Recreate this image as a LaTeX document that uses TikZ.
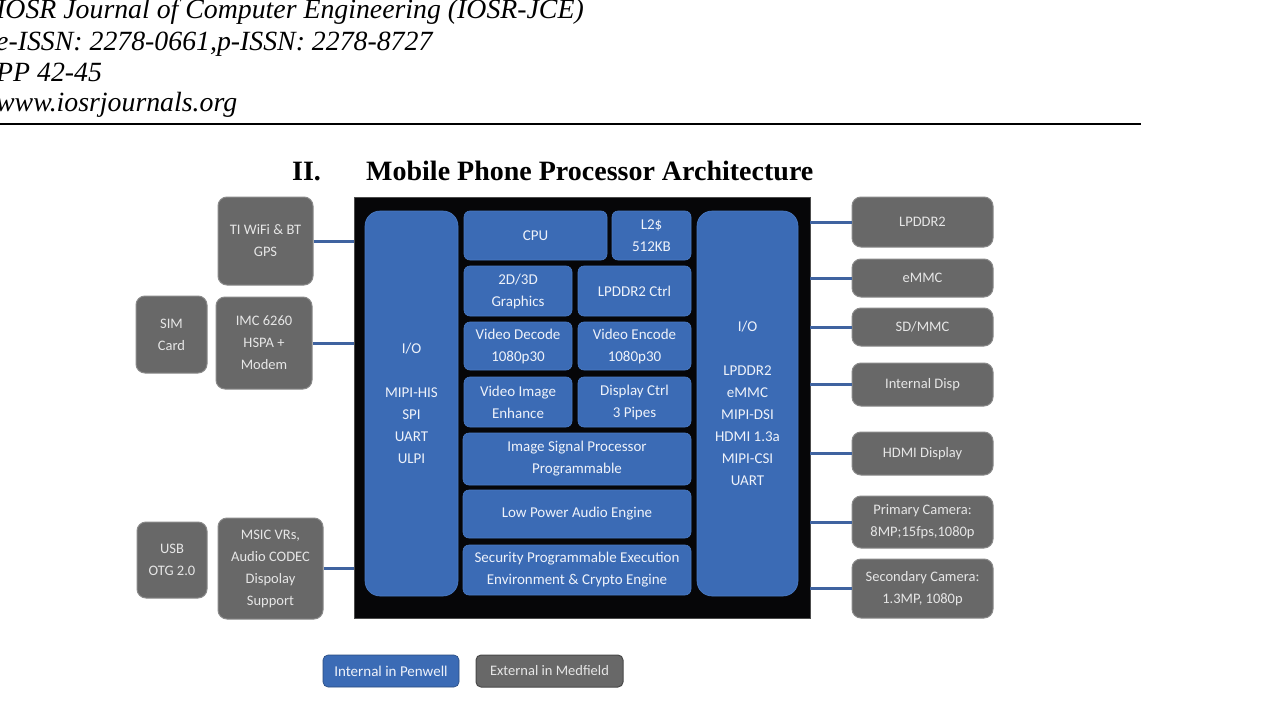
\documentclass[tikz,border=0pt]{standalone}
\usepackage{fontspec}
\setmainfont{Liberation Serif}
\newfontfamily\carl{Carlito}
\definecolor{blueF}{HTML}{3B6BB5}
\definecolor{blueE}{HTML}{4A7BC4}
\definecolor{grayF}{HTML}{686868}
\definecolor{grayE}{HTML}{8A8A8A}
\definecolor{txtB}{HTML}{EEF2FA}
\definecolor{txtG}{HTML}{E6E6E6}
\definecolor{connC}{HTML}{3F63A0}
\definecolor{blackF}{HTML}{060608}
\tikzset{
  blk/.style={rounded corners=6pt, fill=blueF, draw=blueE, line width=0.6pt, text=txtB,
    font=\carl\fontsize{15}{22}\selectfont, align=center, inner sep=0pt},
  iobox/.style={blk, rounded corners=15pt},
  gbox/.style={rounded corners=9pt, fill=grayF, draw=grayE, line width=1pt, text=txtG,
    font=\carl\fontsize{14.5}{22}\selectfont, align=center, inner sep=0pt},
  conn/.style={draw=connC, line width=3pt},
  hdr/.style={anchor=base west, inner sep=0pt, font=\itshape\fontsize{27.8}{30}\selectfont},
  ttl/.style={anchor=base west, inner sep=0pt, font=\bfseries\fontsize{28}{30}\selectfont},
}
\begin{document}
\begin{tikzpicture}[x=1pt,y=-1pt]
\useasboundingbox (0,0) rectangle (1280,720);
\clip (0,0) rectangle (1280,720);
\fill[white] (0,0) rectangle (1280,720);

% header
\node[hdr] (h1) at (-4,19) {IOSR Journal of Computer Engineering (IOSR-JCE)};
\node[hdr] (h2) at (-4,50) {e-ISSN: 2278-0661,p-ISSN: 2278-8727};
\node[hdr] (h3) at (-4,81) {PP 42-45};
\node[hdr] (h4) at (-4,111) {www.iosrjournals.org};
\coordinate (rl) at (0,124);
\coordinate (rr) at (1141,124);
\draw[line width=2pt] (rl) -- (rr);

% title
\node[ttl] (secno) at (292,180) {II.};
\node[ttl] (title) at (366,180) {Mobile Phone Processor Architecture};

% black chip
\node[fill=blackF, draw=gray!60!black, line width=0.8pt, minimum width=456pt, minimum height=421pt, inner sep=0pt] (chip) at (582,407.5) {};

% external boxes (left)
\node[gbox, minimum width=95pt, minimum height=88pt] (wifi) at (265.5,241) {TI WiFi \& BT\\GPS};
\node[gbox, minimum width=71pt, minimum height=77pt] (sim) at (171.5,334.5) {SIM\\Card};
\node[gbox, minimum width=96pt, minimum height=92pt] (imc) at (264,343) {IMC 6260\\HSPA +\\Modem};
\node[gbox, minimum width=70pt, minimum height=76pt] (usb) at (172,560) {USB\\OTG 2.0};
\node[gbox, minimum width=105pt, minimum height=101pt] (msic) at (270.5,568.5) {MSIC VRs,\\Audio CODEC\\Dispolay\\Support};

% external boxes (right)
\node[gbox, minimum width=141pt, minimum height=50pt] (lpddr) at (922.5,222) {LPDDR2};
\node[gbox, minimum width=141pt, minimum height=38pt] (emmc) at (922.5,278) {eMMC};
\node[gbox, minimum width=141pt, minimum height=38pt] (sdmmc) at (922.5,327) {SD/MMC};
\node[gbox, minimum width=141pt, minimum height=43pt] (idisp) at (922.5,384.5) {Internal Disp};
\node[gbox, minimum width=141pt, minimum height=43pt] (hdmi) at (922.5,453.5) {HDMI Display};
\node[gbox, minimum width=141pt, minimum height=52pt] (pcam) at (922.5,522) {Primary Camera:\\8MP;15fps,1080p};
\node[gbox, minimum width=141pt, minimum height=59pt] (scam) at (922.5,588.5) {Secondary Camera:\\1.3MP, 1080p};

% connectors
\draw[conn] (wifi.east) -- (wifi.east -| chip.west);
\draw[conn] (imc.east) -- (imc.east -| chip.west);
\draw[conn] (msic.east) -- (msic.east -| chip.west);
\draw[conn] (lpddr.west) -- (lpddr.west -| chip.east);
\draw[conn] (emmc.west) -- (emmc.west -| chip.east);
\draw[conn] (sdmmc.west) -- (sdmmc.west -| chip.east);
\draw[conn] (idisp.west) -- (idisp.west -| chip.east);
\draw[conn] (hdmi.west) -- (hdmi.west -| chip.east);
\draw[conn] (pcam.west) -- (pcam.west -| chip.east);
\draw[conn] (scam.west) -- (scam.west -| chip.east);

% internal blocks
\node[iobox, minimum width=93pt, minimum height=385pt] (lio) at (411.5,403.5) {I/O\\[22pt]MIPI-HIS\\SPI\\UART\\ULPI};
\node[iobox, minimum width=101pt, minimum height=385pt] (rio) at (747.5,403.5) {I/O\\[22pt]LPDDR2\\eMMC\\MIPI-DSI\\HDMI 1.3a\\MIPI-CSI\\UART};
\node[blk, minimum width=143pt, minimum height=49pt] (cpu) at (535.5,235.5) {CPU};
\node[blk, minimum width=79pt, minimum height=49pt] (l2) at (651.5,235.5) {L2\$\\512KB};
\node[blk, minimum width=108pt, minimum height=50pt] (gfx) at (518,291) {2D/3D\\Graphics};
\node[blk, minimum width=113pt, minimum height=50pt] (lctrl) at (634.5,291) {LPDDR2 Ctrl};
\node[blk, minimum width=108pt, minimum height=48pt] (vdec) at (518,346) {Video Decode\\1080p30};
\node[blk, minimum width=113pt, minimum height=48pt] (venc) at (634.5,346) {Video Encode\\1080p30};
\node[blk, minimum width=108pt, minimum height=50pt] (vimg) at (518,402) {Video Image\\Enhance};
\node[blk, minimum width=113pt, minimum height=50pt] (dctrl) at (634.5,402) {Display Ctrl\\3 Pipes};
\node[blk, minimum width=228pt, minimum height=52pt] (isp) at (577,459) {Image Signal Processor\\Programmable};
\node[blk, minimum width=228pt, minimum height=48pt] (audio) at (577,514) {Low Power Audio Engine};
\node[blk, minimum width=228pt, minimum height=50pt] (sec) at (577,570) {Security Programmable Execution\\Environment \& Crypto Engine};

% legend
\node[blk, rounded corners=5pt, draw=blueF!70!black, minimum width=136pt, minimum height=32pt] (pen) at (391,671) {Internal in Penwell};
\node[gbox, rounded corners=5pt, draw=grayF!70!black, minimum width=147pt, minimum height=32pt] (med) at (549.5,671) {External in Medfield};
\end{tikzpicture}
\end{document}
